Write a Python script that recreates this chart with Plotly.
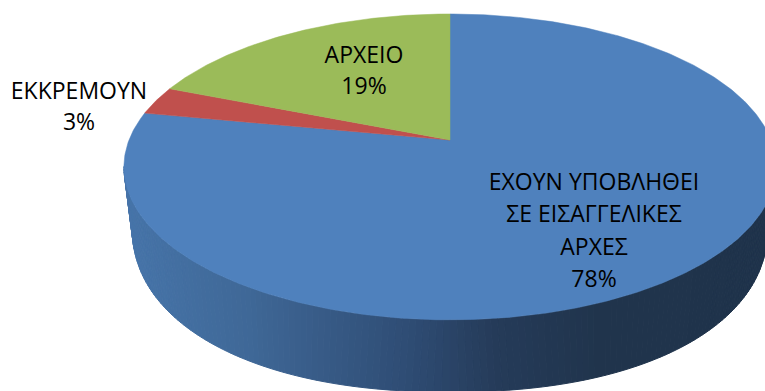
import numpy as np
import plotly.graph_objects as go

categories = ["ΕΧΟΥΝ ΥΠΟΒΛΗΘΕΙ ΣΕ ΕΙΣΑΓΓΕΛΙΚΕΣ ΑΡΧΕΣ", "ΕΚΚΡΕΜΟΥΝ", "ΑΡΧΕΙΟ"]
values = [78, 3, 19]
label_lines = [["ΕΧΟΥΝ ΥΠΟΒΛΗΘΕΙ", "ΣΕ ΕΙΣΑΓΓΕΛΙΚΕΣ", "ΑΡΧΕΣ"], ["ΕΚΚΡΕΜΟΥΝ"], ["ΑΡΧΕΙΟ"]]
colors = ["#4F81BD", "#C0504D", "#9BBB59"]

W, H = 765, 391
AX, AY, RX, RY, K = 450, 140, 321, 148.2, 0.176
BASE_Y, BASE_A, BASE_B, BASE_N = 225, 318, 167, 2.2
LABEL_POS = [(594, 184, 32.5), (79, 93, 31), (364, 57, 31)]
FONT = "Open Sans"
FSIZE = 23

stops_x = [125, 250, 400, 500, 600, 770]
stops_rgb = [(0x47, 0x75, 0xAA), (0x3F, 0x68, 0x97), (0x2F, 0x4D, 0x75),
             (0x25, 0x3B, 0x59), (0x20, 0x34, 0x4C), (0x1F, 0x33, 0x4B)]


def project(theta):
    """theta clockwise from 12 o'clock on the unit circle -> screen."""
    u, v = np.sin(theta), np.cos(theta)
    d = 1 + K * v
    return AX + RX * u / d, AY - RY * v / d


def base(phi):
    """Lower rim of the disc, phi clockwise from 3 o'clock side (90..270 deg)."""
    s, c = np.sin(phi), np.cos(phi)
    e = 2 / BASE_N
    return AX + BASE_A * np.sign(s) * np.abs(s) ** e, BASE_Y + BASE_B * np.abs(c) ** e


def wall_colour(x):
    rgb = [np.interp(x, stops_x, [s[i] for s in stops_rgb]) for i in range(3)]
    return "rgb(%d,%d,%d)" % tuple(int(round(c)) for c in rgb)


fig = go.Figure()

# side wall of the disc
top_edges = np.radians(np.linspace(100, 260, 161))
base_edges = np.radians(np.linspace(90, 270, 161))
for i in range(len(top_edges) - 1):
    xt, yt = project(top_edges[i:i + 2])
    xb, yb = base(base_edges[i:i + 2])
    px = list(xt) + list(xb[::-1]) + [xt[0]]
    py = list(yt) + list(yb[::-1]) + [yt[0]]
    col = wall_colour(float(xb.mean()))
    fig.add_trace(go.Scatter(x=px, y=py, mode="lines", fill="toself", fillcolor=col,
                             line=dict(color=col, width=1), hoverinfo="skip", showlegend=False))

# top face slices
fractions = np.cumsum([0] + values) / sum(values) * 2 * np.pi
for i, cat in enumerate(categories):
    t = np.linspace(fractions[i], fractions[i + 1], max(8, int(values[i] * 6)))
    x, y = project(t)
    fig.add_trace(go.Scatter(x=[AX] + list(x) + [AX], y=[AY] + list(y) + [AY], mode="lines",
                             fill="toself", fillcolor=colors[i], line=dict(color=colors[i], width=0.5),
                             name=cat, showlegend=False))

# labels
for lines, val, (lx, ly, step) in zip(label_lines, values, LABEL_POS):
    rows = lines + [f"{val}%"]
    fig.add_trace(go.Scatter(x=[lx] * len(rows), y=[ly + j * step for j in range(len(rows))],
                             mode="text", text=rows, textposition="middle center",
                             textfont=dict(family=FONT, size=FSIZE, color="black"),
                             hoverinfo="skip", showlegend=False))

fig.update_layout(width=W, height=H, margin=dict(l=0, r=0, t=0, b=0),
                  paper_bgcolor="white", plot_bgcolor="white", showlegend=False,
                  xaxis=dict(range=[0, W], visible=False, fixedrange=True),
                  yaxis=dict(range=[H, 0], visible=False, fixedrange=True))
fig.write_html("out.html", config=dict(displayModeBar=False),
               post_script="document.body.style.margin='0';document.body.style.overflow='hidden';")
